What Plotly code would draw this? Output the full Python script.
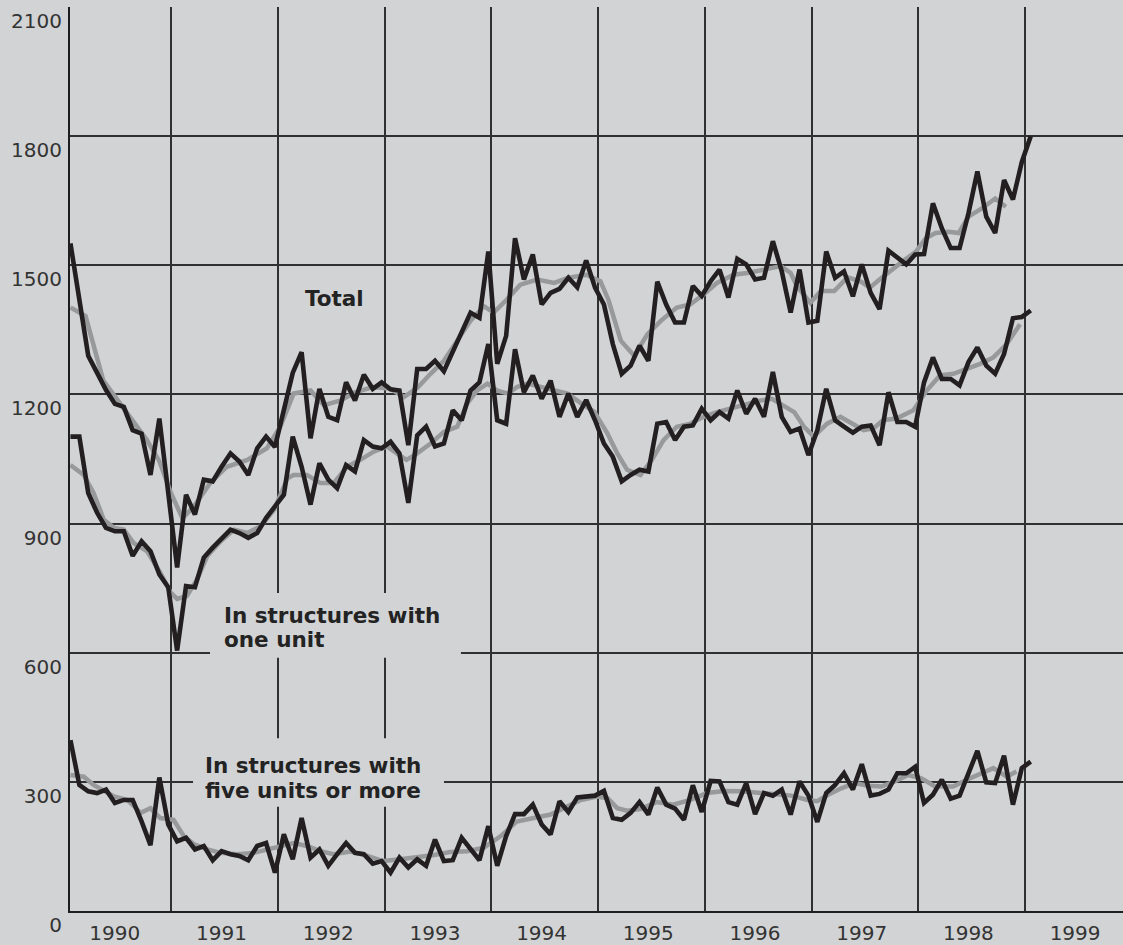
import plotly.graph_objects as go

# ---------------- data (thousands of units, seasonally adjusted annual rate) ----------------
years = [1990, 1991, 1992, 1993, 1994, 1995, 1996, 1997, 1998, 1999]
month_index = list(range(109))  # Jan 1990 .. Jan 1999

total = [1551, 1417, 1290, 1250, 1210, 1178, 1171, 1117, 1109, 1013,
         1144, 971, 798, 967, 921, 1002, 998, 1032, 1063, 1044,
         1013, 1075, 1102, 1078, 1168, 1250, 1298, 1098, 1213, 1148,
         1140, 1228, 1186, 1246, 1213, 1228, 1212, 1209, 1082, 1259,
         1259, 1278, 1254, 1298, 1340, 1390, 1378, 1532, 1271, 1336,
         1563, 1467, 1525, 1409, 1436, 1445, 1471, 1449, 1511, 1448,
         1409, 1317, 1248, 1267, 1313, 1278, 1462, 1409, 1367, 1367,
         1452, 1429, 1463, 1490, 1425, 1515, 1502, 1467, 1471, 1556,
         1486, 1390, 1490, 1367, 1371, 1532, 1471, 1486, 1428, 1502,
         1436, 1398, 1534, 1517, 1502, 1525, 1526, 1644, 1586, 1540,
         1540, 1621, 1718, 1613, 1575, 1698, 1653, 1740, 1800]

one_unit = [1102, 1102, 971, 925, 890, 882, 882, 825, 859, 836,
            782, 752, 605, 755, 752, 821, 844, 867, 886, 878,
            867, 878, 913, 940, 967, 1102, 1032, 944, 1040, 1002,
            982, 1036, 1021, 1094, 1079, 1075, 1090, 1063, 948, 1105,
            1125, 1079, 1086, 1163, 1140, 1209, 1228, 1317, 1140, 1132,
            1305, 1205, 1244, 1190, 1232, 1148, 1202, 1148, 1187, 1140,
            1086, 1055, 998, 1013, 1025, 1021, 1132, 1136, 1094, 1125,
            1128, 1167, 1140, 1159, 1144, 1209, 1155, 1190, 1148, 1252,
            1148, 1113, 1121, 1059, 1117, 1213, 1140, 1125, 1111, 1125,
            1128, 1082, 1205, 1136, 1136, 1125, 1228, 1286, 1236, 1236,
            1221, 1275, 1309, 1267, 1248, 1294, 1377, 1380, 1395]

five_plus = [397, 293, 278, 274, 282, 251, 258, 258, 208, 153,
             310, 201, 162, 170, 143, 151, 118, 139, 132, 128,
             118, 151, 158, 89, 178, 120, 216, 124, 143, 105,
             132, 158, 135, 132, 110, 116, 89, 124, 101, 120,
             105, 166, 116, 118, 170, 143, 118, 197, 105, 174,
             225, 225, 247, 201, 178, 255, 230, 264, 266, 268,
             279, 216, 212, 228, 253, 224, 287, 247, 238, 212,
             292, 230, 302, 301, 253, 247, 297, 225, 274, 268,
             282, 224, 301, 268, 207, 274, 293, 320, 282, 341,
             268, 272, 282, 320, 320, 335, 251, 270, 305, 261,
             268, 320, 372, 299, 297, 361, 247, 332, 347]

# smoothed trend lines (grey), read at the month positions given
trend_total_m = [0, 1.7, 3.7, 6.4, 8.6, 10, 11.3, 12.6, 13.9, 15.7, 17.6, 19.9, 22.1, 23.6,
                 25.1, 27, 28.5, 30.4, 32, 34, 36, 37.5, 39, 40.5, 42, 43.5, 45, 46.5, 47.6,
                 49.1, 50.6, 52.5, 54.4, 56, 58, 59.6, 60.5, 61.9, 63.4, 64.9, 66.4, 68.2,
                 69.7, 71.2, 72.7, 74.6, 76.1, 78, 79.9, 81, 81.7, 83.2, 84.4, 85.9, 87.4,
                 88.9, 89.9, 91, 92.1, 93.6, 95.1, 96.2, 97.3, 98.8, 99.9, 101, 102.5, 104, 105.2]
trend_total = [1402, 1382, 1232, 1158, 1094, 1045, 971, 912, 940, 994, 1032, 1048, 1075, 1125,
               1202, 1209, 1175, 1186, 1205, 1217, 1213, 1194, 1215, 1248, 1278, 1325, 1371, 1405, 1390,
               1421, 1455, 1467, 1459, 1471, 1478, 1463, 1420, 1325, 1290, 1340, 1371, 1402,
               1409, 1432, 1459, 1478, 1482, 1490, 1498, 1482, 1452, 1413, 1440, 1440, 1472,
               1462, 1448, 1467, 1486, 1509, 1532, 1563, 1575, 1578, 1575, 1613, 1632, 1655, 1636]

trend_one_m = [0, 1.5, 2.6, 3.75, 4.9, 6, 7.1, 8.6, 10.1, 11.25, 12, 13.1, 14.25, 15.4, 16.9,
               18.4, 19.9, 21.4, 22.9, 24.4, 25.1, 26.6, 28.1, 29.6, 31.1, 32.6, 34.1, 35.6, 36.7,
               37.8, 39, 40.5, 42, 43.5, 44.6, 45.7, 46.9, 48, 49.2, 50.2, 51.4, 52.9, 54.4, 55.9,
               57.4, 58.9, 60.4, 61.5, 62.6, 64.1, 65.4, 66.7, 68.2, 69.7, 71.2, 72.7, 74.2, 76.1,
               77.6, 78.9, 79.9, 81.4, 82.5, 83.6, 85.1, 86.6, 88.1, 89.2, 90.3, 91.4, 92.9, 94.8,
               96.3, 97.8, 99.3, 100.8, 102.3, 103.8, 105.3, 106.8]
trend_one = [1036, 1013, 971, 909, 890, 886, 855, 836, 786, 740, 725, 732, 771, 825, 859,
             886, 878, 894, 932, 1005, 1013, 1013, 994, 994, 1032, 1048, 1067, 1079, 1063,
             1048, 1063, 1086, 1113, 1125, 1178, 1209, 1225, 1209, 1202, 1217, 1225, 1217, 1209, 1202,
             1180, 1160, 1109, 1063, 1025, 1013, 1048, 1094, 1125, 1132, 1148, 1159, 1167, 1178,
             1186, 1190, 1178, 1159, 1125, 1102, 1132, 1148, 1130, 1117, 1121, 1140, 1144, 1163,
             1209, 1244, 1248, 1259, 1271, 1286, 1317, 1363]

trend_five_m = [0, 1.5, 2.6, 3.75, 4.9, 6.4, 7.9, 9, 10.1, 11.6, 12.75, 13.9, 15.4, 16.9, 18.75,
                20.6, 22.1, 23.6, 25.1, 26.6, 28.1, 29.6, 31.5, 33.4, 35.2, 37.1, 39, 40.9, 42.7,
                44.6, 46.5, 48.4, 50.2, 52.1, 54, 55.5, 57.4, 59.2, 60.4, 61.5, 62.6, 64.1, 65.9,
                67.8, 69.7, 71.6, 73.5, 75.4, 77.3, 79.2, 81.1, 82.9, 84, 85.2, 86.7, 88.2, 89.7,
                91.2, 92.7, 94.2, 95.7, 97.2, 99.3, 100.8, 102.3, 103.8, 105.3, 106.4]
trend_five = [316, 312, 293, 278, 266, 258, 228, 239, 216, 212, 174, 155, 143, 135, 132,
              135, 143, 151, 158, 151, 139, 132, 138, 128, 116, 120, 124, 130, 137,
              139, 147, 174, 208, 216, 224, 239, 258, 266, 262, 239, 233, 237, 253,
              247, 258, 274, 279, 278, 274, 270, 268, 258, 255, 270, 285, 297, 291,
              289, 301, 316, 308, 290, 289, 305, 318, 332, 312, 324]

y_ticks = [0, 300, 600, 900, 1200, 1500, 1800, 2100]

# ---------------- styling ----------------
BG = "#d2d3d5"
BLACK = "#231f20"
GREY = "#98999b"
GRID = "#303030"
FONT = "DejaVu Sans"


def to_x(m):
    """Month index (0 = Jan 1990) -> position on the year axis."""
    return 1990 + (m + 0.65) / 12.0


fig = go.Figure()

for mm, vv in [(trend_total_m, trend_total), (trend_one_m, trend_one), (trend_five_m, trend_five)]:
    fig.add_trace(go.Scatter(x=[to_x(m) for m in mm], y=vv, mode="lines",
                             line=dict(color=GREY, width=4.5), hoverinfo="skip",
                             showlegend=False))

for name, vv in [("Total", total), ("One unit", one_unit), ("Five units or more", five_plus)]:
    fig.add_trace(go.Scatter(x=[to_x(m) for m in month_index], y=vv, mode="lines", name=name,
                             line=dict(color=BLACK, width=4.6), showlegend=False))

# label backgrounds that interrupt the grid
label_boxes = [
    dict(x0=1991.362, x1=1993.714, y0=588.5, y1=738.5),
    dict(x0=1991.203, x1=1993.555, y0=242.3, y1=401.5),
]
for b in label_boxes:
    fig.add_shape(type="rect", xref="x", yref="y", layer="between",
                  fillcolor=BG, line=dict(width=0), **b)

labels = [
    ("Total", 1992.238, 1424),
    ("In structures with", 1991.479, 686),
    ("one unit", 1991.479, 630),
    ("In structures with", 1991.301, 339),
    ("five units or more", 1991.301, 281),
]
for txt, lx, ly in labels:
    fig.add_annotation(x=lx, y=ly, xref="x", yref="y", text=txt, showarrow=False,
                       xanchor="left", yanchor="middle",
                       font=dict(family=FONT, size=21.5, color="#232323", weight="bold"))

fig.update_layout(
    width=1123, height=945,
    margin=dict(l=70, r=0, t=7, b=28),
    paper_bgcolor=BG, plot_bgcolor=BG,
    showlegend=False,
    xaxis=dict(
        range=[1990.05, 1999.919],
        tickmode="array",
        tickvals=[y + 0.47 for y in years],
        ticktext=[str(y) for y in years],
        ticks="", showgrid=False, zeroline=False,
        showline=True, linecolor="#1e1e1e", linewidth=2,
        tickfont=dict(family=FONT, size=20, color="#333333"),
        ticklabelstandoff=3,
        minor=dict(tickmode="array", tickvals=years[1:], showgrid=True,
                   gridcolor=GRID, gridwidth=1.5, ticks=""),
    ),
    yaxis=dict(
        range=[0, 2100],
        tickmode="array", tickvals=y_ticks, ticktext=[str(v) for v in y_ticks],
        ticks="", showgrid=True, gridcolor=GRID, gridwidth=2, zeroline=False,
        showline=True, linecolor="#1e1e1e", linewidth=2,
        ticklabelposition="outside bottom",
        ticklabelstandoff=2,
        tickfont=dict(family=FONT, size=20, color="#333333"),
    ),
)

fig.write_html("out.html",
               config={"displayModeBar": False},
               post_script="document.body.style.margin='0px';"
                           "document.body.style.background='" + BG + "';")
